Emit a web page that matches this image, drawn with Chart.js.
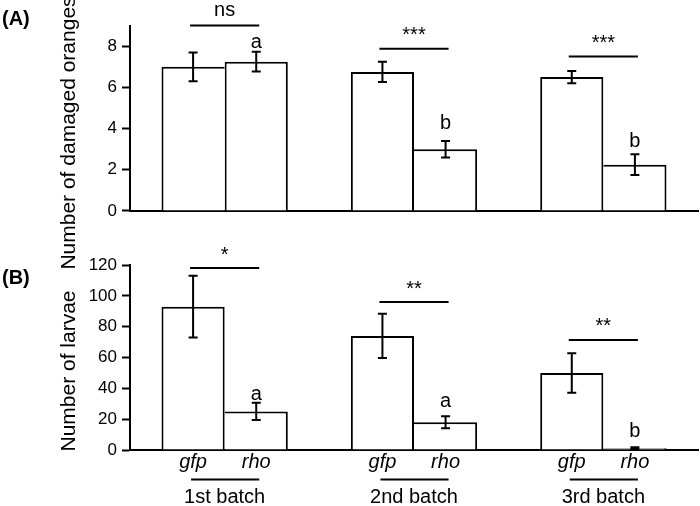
<!DOCTYPE html>
<html>
<head>
<meta charset="utf-8">
<script src="https://cdn.jsdelivr.net/npm/chart.js@4.4.1/dist/chart.umd.min.js"></script>
<style>
  html, body { margin: 0; padding: 0; background: #fff; }
  #wrap { position: relative; width: 700px; height: 506px; }
  #wrap canvas { position: absolute; left: 0; top: 0; }
</style>
</head>
<body>
<div id="wrap">
  <canvas id="chartA" width="700" height="506"></canvas>
  <canvas id="chartB" width="700" height="506"></canvas>
</div>
<script>
// Dados
const batches = ['1st batch', '2nd batch', '3rd batch'];
const treatments = ['gfp', 'rho'];

// (A) oranges
const damagedGfp = [7.0, 6.75, 6.5];
const damagedGfpErr = [0.7, 0.49, 0.3];
const damagedRho = [7.25, 3.0, 2.25];
const damagedRhoErr = [0.48, 0.4, 0.5];
const damagedSig = ['ns', '***', '***'];
const damagedSigLevel = [9.0, 7.88, 7.5];
const damagedLetters = ['a', 'b', 'b'];
const damagedLetterLevel = [7.9, 4.0, 3.1];
const damagedTicks = [0, 2, 4, 6, 8];

// (B) larvae
const larvaeGfp = [93, 74, 50];
const larvaeGfpErr = [20, 14.3, 12.8];
const larvaeRho = [25, 18, 1.2];
const larvaeRhoErr = [5.6, 3.9, 0.6];
const larvaeSig = ['*', '**', '**'];
const larvaeSigLevel = [118, 96, 71.4];
const larvaeLetters = ['a', 'a', 'b'];
const larvaeLetterLevel = [32.4, 27.9, 8.4];
const larvaeTicks = [0, 20, 40, 60, 80, 100, 120];

const FONT = '"Liberation Sans", Arial, sans-serif';

// anotações: barras de erro, significância, letras, títulos
const annotPlugin = {
    id: 'annot',
    afterDatasetsDraw(chart, args, o) {
        const ctx = chart.ctx;
        const y = chart.scales.y;
        const x = chart.scales.x;
        const m0 = chart.getDatasetMeta(0);
        const m1 = chart.getDatasetMeta(1);
        ctx.save();
        ctx.strokeStyle = '#000';
        ctx.fillStyle = '#000';
        ctx.lineWidth = 2;

        // error bars
        [[o.gfp, o.gfpErr, m0], [o.rho, o.rhoErr, m1]].forEach(([vals, errs, meta]) => {
            vals.forEach((v, i) => {
                const px = meta.data[i].x;
                const yt = y.getPixelForValue(v + errs[i]);
                const yb = y.getPixelForValue(Math.max(0, v - errs[i]));
                ctx.beginPath();
                ctx.moveTo(px, yt); ctx.lineTo(px, yb);
                ctx.moveTo(px - 4.5, yt); ctx.lineTo(px + 4.5, yt);
                ctx.moveTo(px - 4.5, yb); ctx.lineTo(px + 4.5, yb);
                ctx.stroke();
            });
        });

        // significance
        ctx.font = '20px ' + FONT;
        ctx.textAlign = 'center';
        ctx.textBaseline = 'alphabetic';
        o.sig.forEach((s, i) => {
            const x0 = m0.data[i].x - 3, x1 = m1.data[i].x + 3;
            const ly = y.getPixelForValue(o.sigLevel[i]);
            ctx.beginPath();
            ctx.moveTo(x0, ly); ctx.lineTo(x1, ly);
            ctx.stroke();
            ctx.fillText(s, (x0 + x1) / 2, ly - (s === 'ns' ? 10 : 7.5));
        });

        // letters
        o.letters.forEach((l, i) => {
            ctx.fillText(l, m1.data[i].x, y.getPixelForValue(o.letterLevel[i]));
        });

        // x labels (only bottom panel)
        if (o.xLabels) {
            const b = chart.chartArea.bottom;
            batches.forEach((name, i) => {
                ctx.font = 'italic 20px ' + FONT;
                ctx.fillText(treatments[0], m0.data[i].x, b + 18);
                ctx.fillText(treatments[1], m1.data[i].x, b + 18);
                ctx.beginPath();
                ctx.moveTo(m0.data[i].x - 2, b + 29.5);
                ctx.lineTo(m1.data[i].x + 3, b + 29.5);
                ctx.stroke();
                ctx.font = '20px ' + FONT;
                ctx.fillText(name, x.getPixelForValue(i), b + 53);
            });
        }

        // y title
        ctx.save();
        ctx.translate(69, o.titleY);
        ctx.rotate(-Math.PI / 2);
        ctx.font = '21px ' + FONT;
        ctx.textBaseline = 'middle';
        ctx.fillText(o.title, 0, 0);
        ctx.restore();

        // panel label
        ctx.font = 'bold 20px ' + FONT;
        ctx.textAlign = 'left';
        ctx.textBaseline = 'middle';
        ctx.fillText(o.panel, 2, o.panelY);
        ctx.restore();
    }
};

function makeChart(id, gfp, rho, yMax, ticks, step, top, bottom, annot) {
    return new Chart(document.getElementById(id), {
        type: 'bar',
        data: {
            labels: batches,
            datasets: [{
                label: treatments[0],
                data: gfp,
                backgroundColor: '#fff',
                borderColor: '#000',
                borderWidth: c => ({ top: 2, left: 2, bottom: 0, right: gfp[c.dataIndex] >= rho[c.dataIndex] ? 2 : 0 }),
                borderSkipped: 'start'
            }, {
                label: treatments[1],
                data: rho,
                backgroundColor: '#fff',
                borderColor: '#000',
                borderWidth: c => ({ top: 2, right: 2, bottom: 0, left: rho[c.dataIndex] > gfp[c.dataIndex] ? 2 : 0 }),
                borderSkipped: 'start'
            }]
        },
        options: {
            responsive: false,
            animation: false,
            devicePixelRatio: 1,
            categoryPercentage: 0.667,
            barPercentage: 1,
            layout: { padding: { top: top, right: 2, left: 0, bottom: 0 } },
            plugins: {
                legend: { display: false },
                tooltip: { enabled: false },
                annot: annot
            },
            scales: {
                x: {
                    offset: true,
                    ticks: { display: false },
                    grid: { display: false },
                    border: { display: true, color: '#000', width: 2 },
                    afterFit: s => { s.height = 506 - bottom; }
                },
                y: {
                    min: 0,
                    max: yMax,
                    ticks: {
                        stepSize: step,
                        color: '#000',
                        padding: 5,
                        font: { family: FONT, size: 17 }
                    },
                    afterBuildTicks: s => { s.ticks = s.ticks.filter(t => ticks.includes(t.value)); },
                    grid: { drawOnChartArea: false, drawTicks: true, tickLength: 8, tickColor: '#000', tickWidth: 2 },
                    border: { display: true, color: '#000', width: 2 },
                    afterFit: s => { s.width = 130; }
                }
            }
        },
        plugins: [annotPlugin]
    });
}

makeChart('chartA', damagedGfp, damagedRho, 9, damagedTicks, 2, 25.6, 211, {
    gfp: damagedGfp, gfpErr: damagedGfpErr, rho: damagedRho, rhoErr: damagedRhoErr,
    sig: damagedSig, sigLevel: damagedSigLevel,
    letters: damagedLetters, letterLevel: damagedLetterLevel,
    xLabels: false, title: 'Number of damaged oranges', titleY: 133,
    panel: '(A)', panelY: 19
});

makeChart('chartB', larvaeGfp, larvaeRho, 120, larvaeTicks, 20, 265, 450, {
    gfp: larvaeGfp, gfpErr: larvaeGfpErr, rho: larvaeRho, rhoErr: larvaeRhoErr,
    sig: larvaeSig, sigLevel: larvaeSigLevel,
    letters: larvaeLetters, letterLevel: larvaeLetterLevel,
    xLabels: true, title: 'Number of larvae', titleY: 371,
    panel: '(B)', panelY: 278
});
</script>
</body>
</html>
